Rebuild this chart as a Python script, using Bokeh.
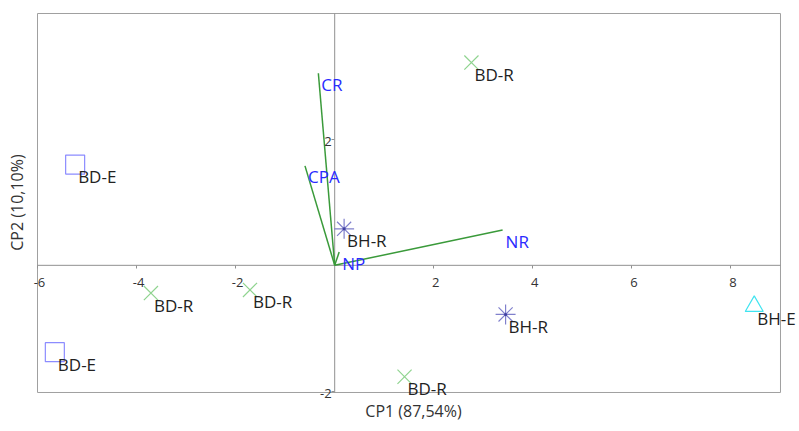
from bokeh.plotting import figure
from bokeh.models import LinearAxis, FixedTicker, Range1d, ColumnDataSource, LabelSet
from bokeh.core.properties import value
from bokeh.embed import file_html
from bokeh.resources import INLINE

# ---- data ----
bd_e_x = [-5.24, -5.65]
bd_e_y = [1.60, -1.38]
bd_r_x = [2.76, -3.71, -1.71, 1.41]
bd_r_y = [3.22, -0.44, -0.39, -1.77]
bh_r_x = [0.19, 3.45]
bh_r_y = [0.58, -0.78]
bh_e_x = [8.47]
bh_e_y = [-0.65]

var_names = ["CR", "CPA", "NR", "NP"]
var_x = [-0.33, -0.60, 3.39, 0.09]
var_y = [3.05, 1.58, 0.56, 0.21]

x_ticks = [-6, -4, -2, 2, 4, 6, 8]
x_tick_labels = ["-6", "-4", "-2", "2", "4", "6", "8"]
y_ticks = [-2, 2]
y_tick_labels = ["-2", "2"]
x_label = "CP1 (87,54%)"
y_label = "CP2 (10,10%)"

# plotted box (the visible frame) in data units
X_MIN, X_MAX = -6, 9
Y_MIN, Y_MAX = -2.02, 4

FONT = "Open Sans"

# the real Bokeh frame is a little larger than the drawn box so that
# labels may spill over the box edge without being clipped
p = figure(width=799, height=429, output_backend="svg", toolbar_location=None,
           x_range=Range1d(-6.2019, 9.3836), y_range=Range1d(-2.1312, 4.1271),
           min_border_left=27, min_border_right=0, min_border_top=5, min_border_bottom=30)
p.grid.visible = False
p.outline_line_color = None

# outer axes: only titles
for ax in p.xaxis + p.yaxis:
    ax.ticker = FixedTicker(ticks=[])
    ax.axis_line_color = None
    ax.major_tick_line_color = None
    ax.minor_tick_line_color = None
    ax.major_tick_out = 0
    ax.major_label_standoff = 0
    ax.axis_label_text_font = FONT
    ax.axis_label_text_font_size = "16px"
    ax.axis_label_text_font_style = "normal"
    ax.axis_label_text_color = "#333333"
p.xaxis.axis_label = x_label
p.yaxis.axis_label = y_label
p.xaxis.axis_label_standoff = 0
p.yaxis.axis_label_standoff = 0

# visible box
p.quad(left=[X_MIN], right=[X_MAX], bottom=[Y_MIN], top=[Y_MAX],
       fill_color=None, line_color="#a0a0a0", line_width=1)
# zero lines
p.segment(x0=[X_MIN, 0], y0=[0, Y_MIN], x1=[X_MAX, 0], y1=[0, Y_MAX],
          line_color="#909090", line_width=1)

# tick marks through the origin
xa = LinearAxis(fixed_location=0, ticker=FixedTicker(ticks=x_ticks))
ya = LinearAxis(fixed_location=0, ticker=FixedTicker(ticks=y_ticks))
for ax in (xa, ya):
    ax.axis_line_color = None
    ax.major_tick_line_color = "#909090"
    ax.minor_tick_line_color = None
    ax.major_tick_in = 0
    ax.major_tick_out = 3
    ax.major_label_text_color = None
p.add_layout(xa, "below")
p.add_layout(ya, "left")

xt_src = ColumnDataSource(dict(x=x_ticks, y=[0] * len(x_ticks), t=x_tick_labels))
yt_src = ColumnDataSource(dict(x=[0] * len(y_ticks), y=y_ticks, t=y_tick_labels))
p.add_layout(LabelSet(x="x", y="y", text="t", source=xt_src, x_offset=2, y_offset=-17,
                      text_align="center", text_baseline="middle",
                      text_font=value(FONT), text_font_size="13px", text_color="#333333"))
p.add_layout(LabelSet(x="x", y="y", text="t", source=yt_src, x_offset=-3, y_offset=-2,
                      text_align="right", text_baseline="middle",
                      text_font=value(FONT), text_font_size="13px", text_color="#333333"))

# loading vectors
p.segment(x0=[0] * len(var_x), y0=[0] * len(var_y), x1=var_x, y1=var_y,
          line_color="#3a9a3a", line_width=1.5)
var_src = ColumnDataSource(dict(x=var_x, y=var_y, t=var_names))
p.add_layout(LabelSet(x="x", y="y", text="t", source=var_src, x_offset=3, y_offset=-11,
                      text_align="left", text_baseline="middle", text_color="#2a2aff",
                      text_font=value(FONT), text_font_size="17px"))

# scores
p.scatter(bd_e_x, bd_e_y, marker="square", size=19, fill_color=None,
          line_color="#8c8cff", line_width=1.2)
p.scatter(bd_r_x, bd_r_y, marker="x", size=20, line_color="#90d490", line_width=1.2)
p.scatter(bh_r_x, bh_r_y, marker="asterisk", size=20, line_color="#8080cc", line_width=1.2)
p.scatter(bh_r_x, bh_r_y, marker="circle", size=3, fill_color="#4040a0", line_color=None)
p.scatter(bh_e_x, bh_e_y, marker="triangle", size=18, fill_color=None,
          line_color="#40e4f0", line_width=1.2)

for xs, ys, name in ((bd_e_x, bd_e_y, "BD-E"), (bd_r_x, bd_r_y, "BD-R"),
                     (bh_r_x, bh_r_y, "BH-R"), (bh_e_x, bh_e_y, "BH-E")):
    src = ColumnDataSource(dict(x=xs, y=ys, t=[name] * len(xs)))
    p.add_layout(LabelSet(x="x", y="y", text="t", source=src, x_offset=3, y_offset=-12,
                          text_align="left", text_baseline="middle", text_color="#222222",
                          text_font=value(FONT), text_font_size="17px"))

open("out.html", "w").write(file_html(p, INLINE))
